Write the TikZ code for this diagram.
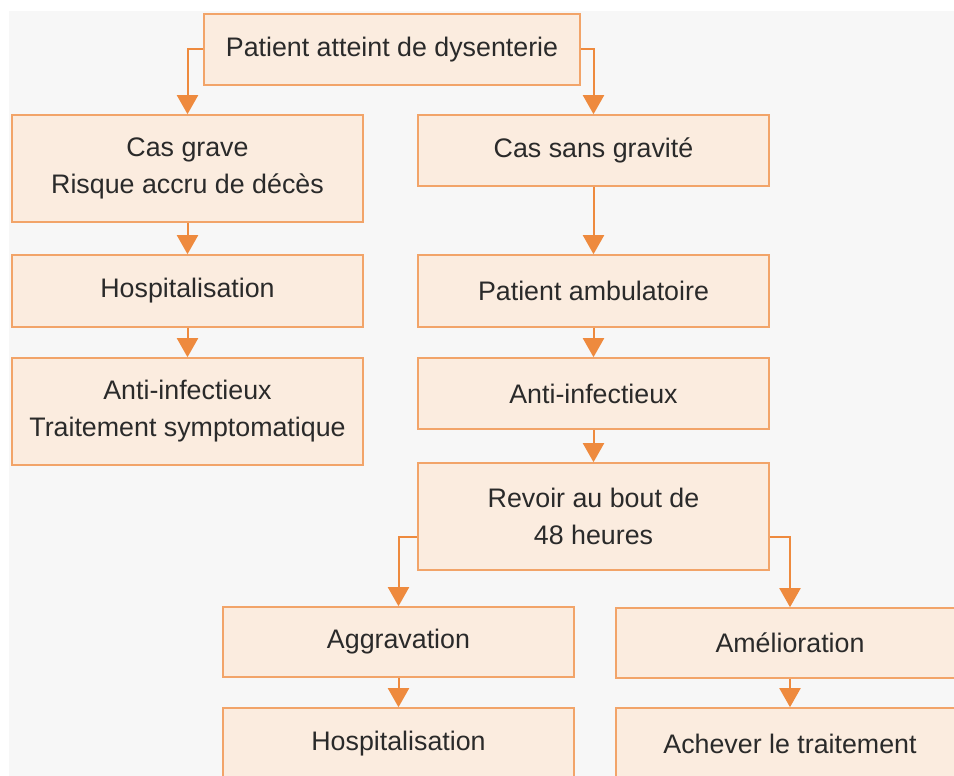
\documentclass[tikz,border=0pt]{standalone}
\usepackage{fontspec}
\setmainfont{Liberation Sans}
\usetikzlibrary{arrows.meta}
\definecolor{bggray}{HTML}{F7F7F7}
\definecolor{boxfill}{HTML}{FBECDF}
\definecolor{boxline}{HTML}{F2A469}
\definecolor{arrcol}{HTML}{EE8A3E}
\definecolor{txtcol}{HTML}{2A2A2A}
\tikzset{
  box/.style={draw=boxline, fill=boxfill, line width=1.6pt, inner sep=0pt,
    align=center, text=txtcol, font=\fontsize{26.8}{37}\selectfont},
  arr/.style={color=arrcol, line width=2pt,
    -{Triangle[width=21pt,length=19pt]}},
}
\begin{document}
\begin{tikzpicture}[x=1pt,y=-1pt]
\useasboundingbox (0,0) rectangle (954,776);
\fill[white] (0,0) rectangle (954,776);
\fill[bggray] (9,11) rectangle (954,776);
% top
\node[box, minimum width=376pt, minimum height=71pt] (top) at (392,49.5) {Patient atteint de dysenterie};
% left column
\node[box, minimum width=351pt, minimum height=107pt] (cg) at (187.5,168.5) {Cas grave\\Risque accru de décès};
\node[box, minimum width=351pt, minimum height=72pt] (hl) at (187.5,291) {Hospitalisation};
\node[box, minimum width=351pt, minimum height=107pt] (al) at (187.5,411.5) {Anti-infectieux\\Traitement symptomatique};
% right column
\node[box, minimum width=351pt, minimum height=71pt] (csg) at (593.5,150.5) {Cas sans gravité};
\node[box, minimum width=351pt, minimum height=72pt] (pa) at (593.5,291) {Patient ambulatoire};
\node[box, minimum width=351pt, minimum height=71pt] (ar) at (593.5,393.5) {Anti-infectieux};
\node[box, minimum width=351pt, minimum height=107pt] (rev) at (593.5,516.5) {Revoir au bout de\\48 heures};
% bottom
\node[box, minimum width=351pt, minimum height=70pt] (agg) at (398.5,642) {Aggravation};
\node[box, minimum width=351pt, minimum height=72pt] (hb) at (398.5,744) {Hospitalisation};
\node[box, minimum width=348pt, minimum height=70pt] (ame) at (790,643) {Amélioration};
\node[box, minimum width=348pt, minimum height=72pt] (ach) at (790,744) {Achever le traitement};
% connectors
\draw[arr] (top.west) -| (cg.north);
\draw[arr] (top.east) -| (csg.north);
\draw[arr] (cg) -- (hl);
\draw[arr] (hl) -- (al);
\draw[arr] (csg) -- (pa);
\draw[arr] (pa) -- (ar);
\draw[arr] (ar) -- (rev);
\draw[arr] ([yshift=-20pt]rev.west) -| (agg.north);
\draw[arr] ([yshift=-20pt]rev.east) -| (ame.north);
\draw[arr] (agg) -- (hb);
\draw[arr] (ame) -- (ach);
\end{tikzpicture}
\end{document}
